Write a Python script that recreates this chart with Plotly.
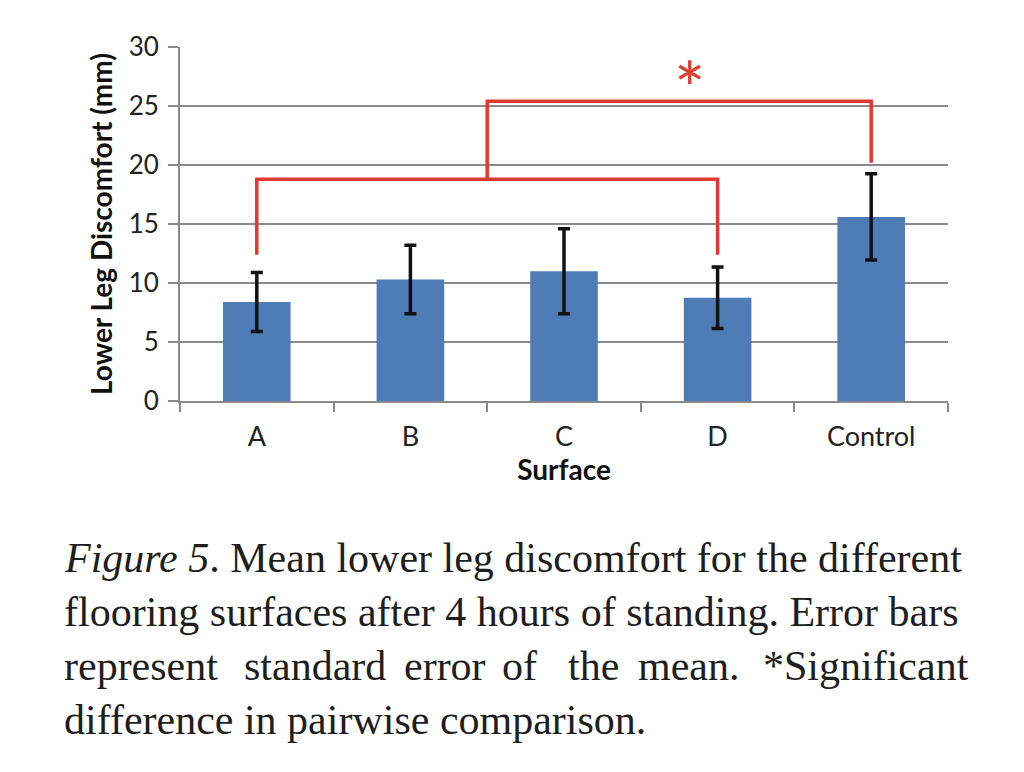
import plotly.graph_objects as go

# ---- data ----
categories = ["A", "B", "C", "D", "Control"]
means = [8.4, 10.3, 11.0, 8.75, 15.6]
sem = [2.5, 2.9, 3.6, 2.6, 3.65]
y_ticks = [0, 5, 10, 15, 20, 25, 30]

# significance brackets (x in category index units, y in mm)
bracket_low_x = [0, 0, 3, 3]
bracket_low_y = [12.4, 18.8, 18.8, 12.4]
bracket_high_x = [1.5, 1.5, 4, 4]
bracket_high_y = [18.8, 25.4, 25.4, 20.2]
star_x, star_y = 2.82, 27.8

caption_lines = [
    "<i>Figure 5</i>. Mean lower leg discomfort for the different",
    "flooring surfaces after 4 hours of standing. Error bars",
    "represent standard error of the mean. *Significant",
    "difference in pairwise comparison.",
]

# ---- layout constants (pixels) ----
W, H = 1024, 772
L, R, T, B = 180, 76, 47, 371
PW, PH = W - L - R, H - T - B

def px_x(p):
    return (p - L) / PW

def px_y(p):
    return (H - B - p) / PH

xs = list(range(len(categories)))

fig = go.Figure()
fig.add_trace(go.Bar(
    x=xs, y=means, width=0.44,
    marker=dict(color="#4f7cb6", line=dict(width=0)),
    error_y=dict(type="data", array=sem, visible=True, color="#111111",
                 thickness=3.5, width=6),
    showlegend=False, hoverinfo="skip",
))
red = "#e0392f"
for bx, by in [(bracket_low_x, bracket_low_y), (bracket_high_x, bracket_high_y)]:
    fig.add_trace(go.Scatter(x=bx, y=by, mode="lines",
                             line=dict(color=red, width=3.5),
                             showlegend=False, hoverinfo="skip"))

fig.add_annotation(x=star_x, y=star_y, xref="x", yref="y", text="*",
                   showarrow=False, font=dict(family="Lato", size=74, color=red),
                   yanchor="middle", yshift=-15)

axis_col = "#8a8a8a"
fig.update_xaxes(
    range=[-0.5, len(categories) - 0.5],
    tickmode="array", tickvals=xs, ticktext=categories,
    ticks="", showgrid=False, zeroline=False,
    showline=True, linecolor=axis_col, linewidth=2,
    tickfont=dict(family="Lato", size=27, color="#222222"),
    ticklabelstandoff=11,
    minor=dict(tickmode="array",
               tickvals=[i - 0.5 for i in range(len(categories) + 1)],
               ticks="outside", ticklen=9, tickcolor=axis_col, tickwidth=2,
               showgrid=False),
    title=dict(text="<b>Surface</b>", font=dict(family="Lato", size=28, color="#111111"),
               standoff=4),
)
fig.update_yaxes(
    range=[0, 30], tickmode="array", tickvals=y_ticks,
    showgrid=True, gridcolor=axis_col, gridwidth=2,
    zeroline=False, showline=True, linecolor=axis_col, linewidth=2,
    ticks="outside", ticklen=10, tickcolor=axis_col, tickwidth=2,
    tickfont=dict(family="Lato", size=26, color="#222222"),
    ticklabelstandoff=4,
    title=dict(text="<b>Lower Leg Discomfort (mm)</b>",
               font=dict(family="Lato", size=28, color="#111111"), standoff=8),
)

cap_font = dict(family="Liberation Serif", size=42, color="#1e1e1e")
baselines = [568, 622, 676, 730]
for i, line in enumerate(caption_lines):
    if i == 2:
        words = line.split(" ")
        starts = [63, 243, 403, 501, 567, 637, 970]
        for j, (w, sx) in enumerate(zip(words, starts)):
            last = j == len(words) - 1
            fig.add_annotation(x=px_x(sx), y=px_y(baselines[i]), xref="paper", yref="paper",
                               text=w, showarrow=False,
                               xanchor="right" if last else "left", yanchor="bottom",
                               yshift=-14, font=cap_font, borderpad=0)
    else:
        fig.add_annotation(x=px_x(63), y=px_y(baselines[i]), xref="paper", yref="paper",
                           text=line, showarrow=False, xanchor="left", yanchor="bottom",
                           yshift=-14, font=cap_font, borderpad=0)

fig.update_layout(
    width=W, height=H,
    margin=dict(l=L, r=R, t=T, b=B),
    paper_bgcolor="white", plot_bgcolor="white",
    bargap=0.5,
)

fig.write_html("out.html", config={"displayModeBar": False},
               post_script="document.body.style.margin='0';document.body.style.padding='0';")
